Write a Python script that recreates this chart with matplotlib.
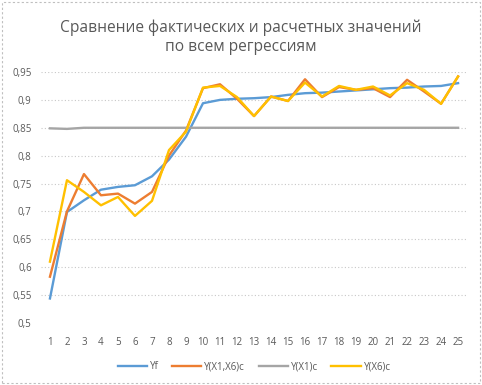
import matplotlib
matplotlib.use("Agg")
import matplotlib.pyplot as plt
from matplotlib.patches import Rectangle

categories = list(range(1, 26))
yf = [0.544, 0.699, 0.720, 0.739, 0.744, 0.747, 0.763, 0.793, 0.834, 0.894, 0.900, 0.902,
      0.903, 0.905, 0.909, 0.912, 0.913, 0.915, 0.917, 0.919, 0.921, 0.922, 0.924, 0.925, 0.930]
y_x1x6 = [0.583, 0.700, 0.767, 0.729, 0.732, 0.714, 0.735, 0.800, 0.845, 0.921, 0.928, 0.902,
          0.871, 0.906, 0.898, 0.937, 0.905, 0.923, 0.918, 0.921, 0.905, 0.936, 0.915, 0.893, 0.942]
y_x1 = [0.849, 0.848, 0.850, 0.850, 0.850, 0.850, 0.850, 0.850, 0.850, 0.850, 0.850, 0.850,
        0.850, 0.850, 0.850, 0.850, 0.850, 0.850, 0.850, 0.850, 0.850, 0.850, 0.850, 0.850, 0.850]
y_x6 = [0.610, 0.756, 0.735, 0.711, 0.726, 0.692, 0.719, 0.810, 0.843, 0.922, 0.925, 0.905,
        0.871, 0.906, 0.898, 0.931, 0.906, 0.925, 0.918, 0.924, 0.908, 0.930, 0.918, 0.893, 0.942]
series_names = ["Yf", "Y(X1,X6)c", "Y(X1)c", "Y(X6)c"]
yticks = [0.5, 0.55, 0.6, 0.65, 0.7, 0.75, 0.8, 0.85, 0.9, 0.95]
ytick_labels = ["0,5", "0,55", "0,6", "0,65", "0,7", "0,75", "0,8", "0,85", "0,9", "0,95"]
title = "Сравнение фактических и расчетных значений\nпо всем регрессиям"

colors = ["#5B9BD5", "#ED7D31", "#A5A5A5", "#FFC000"]

fig = plt.figure(figsize=(4.82, 3.85), dpi=100)
ax = fig.add_axes([0.086, 0.161, 0.882, 0.652])

x = list(range(len(categories)))
for data, name, c in zip([yf, y_x1x6, y_x1, y_x6], series_names, colors):
    ax.plot(x, data, color=c, lw=1.7, label=name, solid_joinstyle="round")

ax.set_xlim(-0.5, len(categories) - 0.5)
ax.set_ylim(0.5, 0.95)
ax.set_xticks(x)
ax.set_xticklabels([str(c) for c in categories])
ax.set_yticks(yticks)
ax.set_yticklabels(ytick_labels)
ax.tick_params(length=0, labelsize=7, colors="#595959")
ax.tick_params(axis="x", pad=10)
ax.tick_params(axis="y", pad=7)
for lab in ax.get_xticklabels() + ax.get_yticklabels():
    lab.set_family("Open Sans")
ax.yaxis.grid(True, color="#C8C8C8", lw=0.8, ls=(0, (1, 2)))
ax.get_ygridlines()[0].set_visible(False)
ax.set_axisbelow(True)
for s in ax.spines.values():
    s.set_visible(False)

fig.text(0.5, 0.95, title, ha="center", va="top", fontsize=11.2, color="#595959",
         family="Open Sans", linespacing=1.3)

leg = ax.legend(loc="center", bbox_to_anchor=(0.5, -0.175), ncol=4, frameon=False,
                handlelength=3.0, columnspacing=1.4, handletextpad=0.3,
                prop={"family": "Open Sans", "size": 7})
for t in leg.get_texts():
    t.set_color("#595959")

fig.patches.append(Rectangle((0.004, 0.004), 0.992, 0.992, transform=fig.transFigure,
                             fill=False, ec="#BFBFBF", lw=0.8, ls=(0, (2, 2))))

fig.savefig("out.png", dpi=100, facecolor="white")
